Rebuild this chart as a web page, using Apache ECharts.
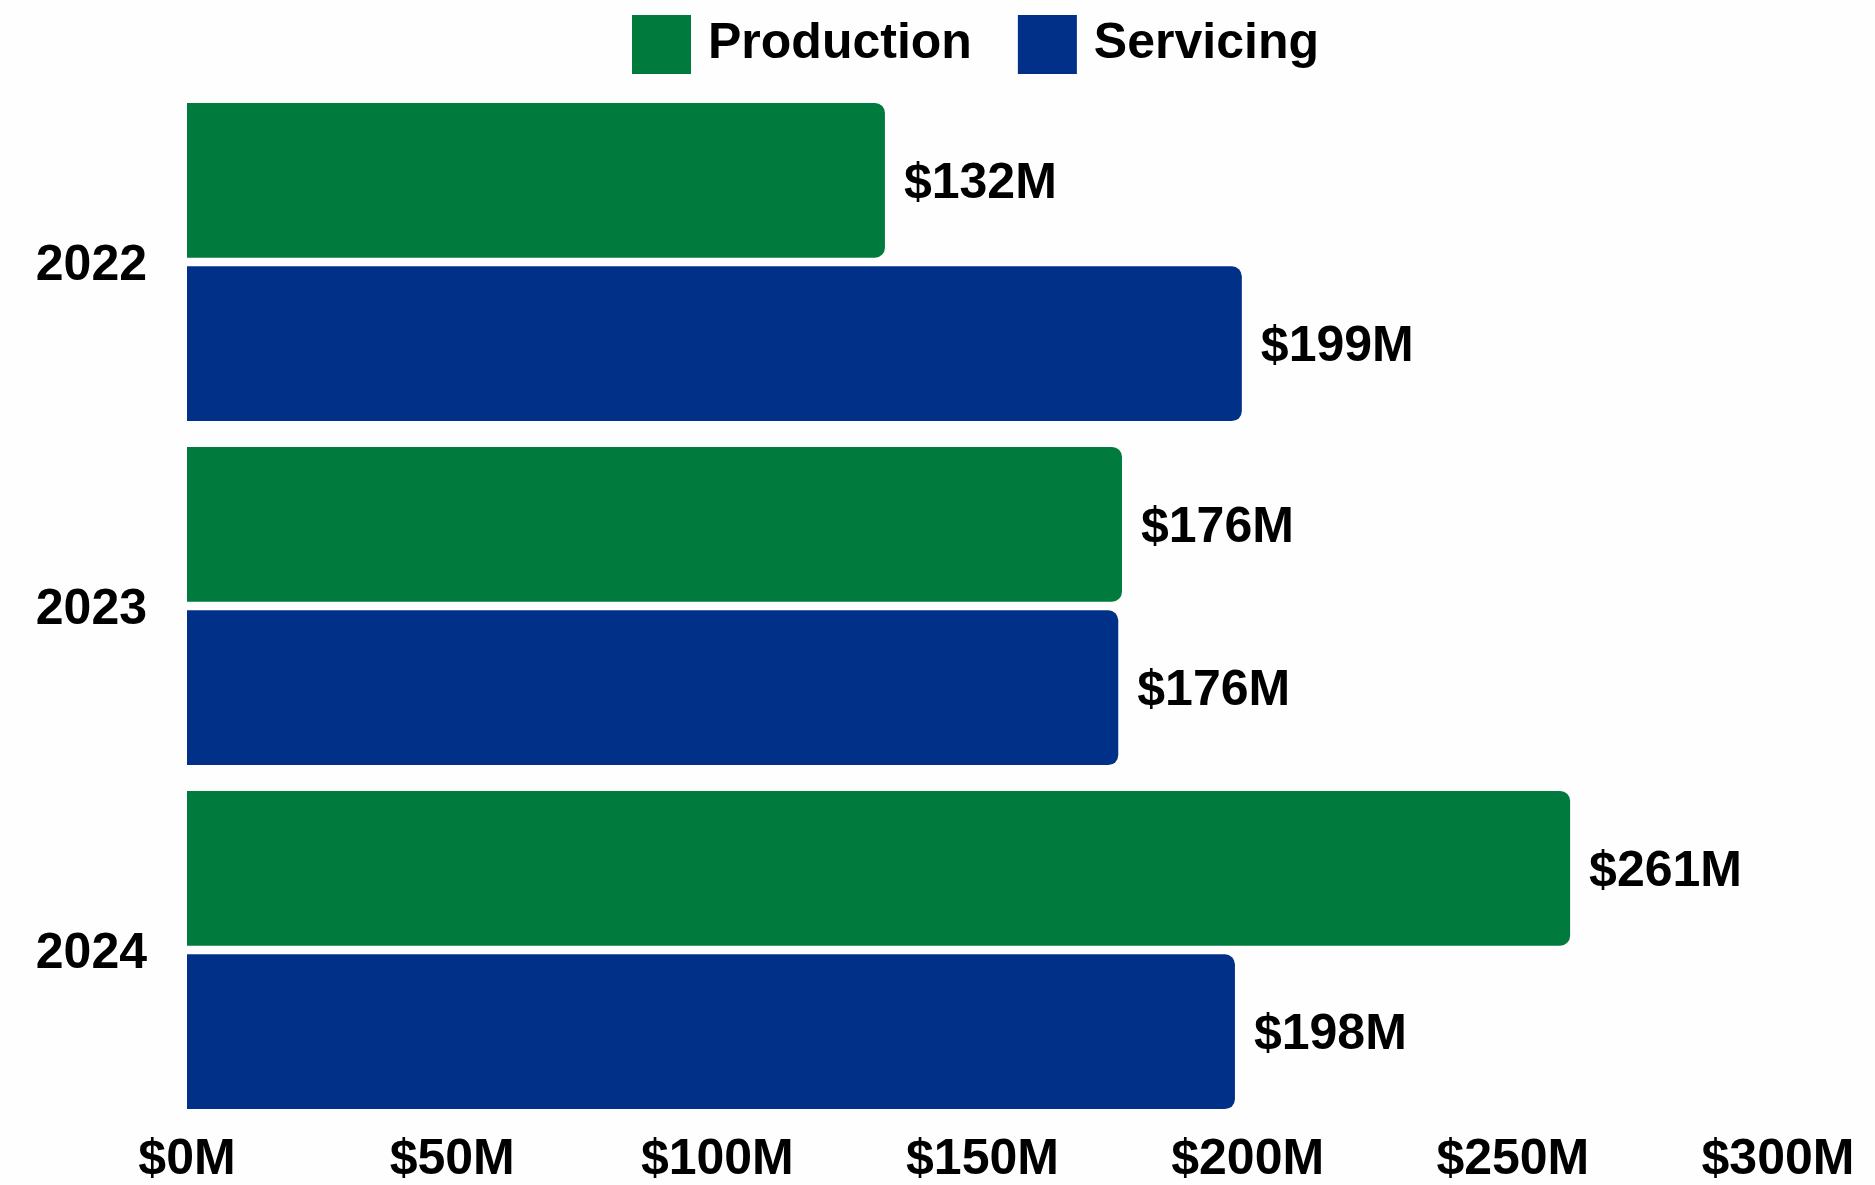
<!DOCTYPE html>
<html>
<head>
<meta charset="utf-8">
<script src="https://cdn.jsdelivr.net/npm/echarts@6/dist/echarts.min.js"></script>
<style>
html,body{margin:0;padding:0;background:#fdfefd;}
#chart{width:1875px;height:1185px;}
</style>
</head>
<body>
<div id="chart"></div>
<script>
var years = ['2022', '2023', '2024'];
var seriesNames = ['Production', 'Servicing'];
var production = [131.6, 176.3, 260.8];
var servicing = [198.9, 175.6, 197.6];
var xTicks = [0, 50, 100, 150, 200, 250, 300];
var colors = ['#007a3d', '#003087'];

var font = '"Liberation Sans", Arial, Helvetica, sans-serif';
var chart = echarts.init(document.getElementById('chart'));
function money(v) { return '$' + Math.round(v) + 'M'; }
var labelStyle = {
  show: true, position: 'right', distance: 19, offset: [0, 4],
  fontFamily: font, fontSize: 50, fontWeight: 'bold', color: '#000',
  formatter: function (p) { return money(p.value); }
};
chart.setOption({
  backgroundColor: '#fdfefd',
  animation: false,
  legend: {
    top: 10,
    left: 627,
    itemWidth: 59,
    itemHeight: 59,
    itemGap: 46,
    icon: 'rect',
    textStyle: { fontFamily: font, fontSize: 50, fontWeight: 'bold', color: '#000', padding: [0, 0, 0, 12] },
    data: seriesNames
  },
  grid: { left: 187, right: 97, top: 90, bottom: 59, containLabel: false },
  xAxis: {
    type: 'value',
    min: xTicks[0],
    max: xTicks[xTicks.length - 1],
    interval: xTicks[1] - xTicks[0],
    axisLine: { show: false },
    axisTick: { show: false },
    splitLine: { show: false },
    axisLabel: { fontFamily: font, fontSize: 50, fontWeight: 'bold', color: '#000', margin: 13, formatter: money }
  },
  yAxis: {
    type: 'category',
    data: years,
    inverse: true,
    axisLine: { show: false },
    axisTick: { show: false },
    axisLabel: {
      fontFamily: font, fontSize: 50, fontWeight: 'bold', color: '#000', margin: 40,
      formatter: function (v) { return '{y|' + v + '}'; },
      rich: { y: { fontFamily: font, fontSize: 50, fontWeight: 'bold', color: '#000', padding: [8, 0, 0, 0] } }
    }
  },
  series: [
    {
      name: seriesNames[0], type: 'bar', data: production,
      barCategoryGap: '7.5%', barGap: '5.5%',
      itemStyle: { color: colors[0], borderRadius: [0, 10, 10, 0] },
      label: labelStyle
    },
    {
      name: seriesNames[1], type: 'bar', data: servicing,
      barCategoryGap: '7.5%', barGap: '5.5%',
      itemStyle: { color: colors[1], borderRadius: [0, 10, 10, 0] },
      label: labelStyle
    }
  ]
});
</script>
</body>
</html>
